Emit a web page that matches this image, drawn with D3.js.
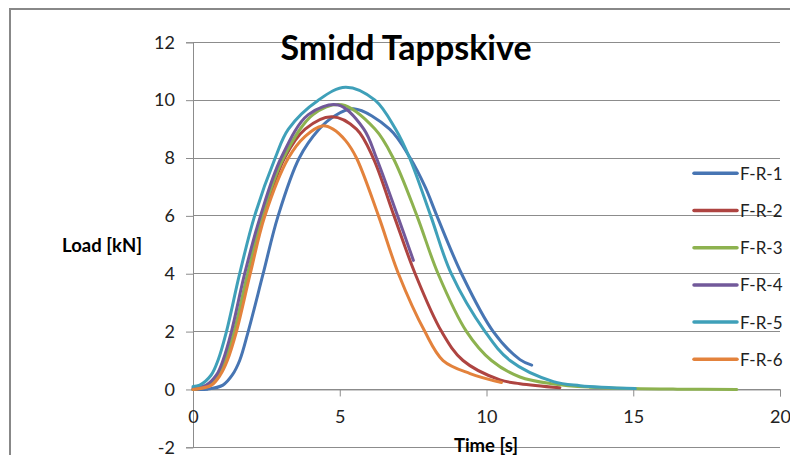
<!DOCTYPE html>
<html><head><meta charset="utf-8">
<script src="https://cdn.jsdelivr.net/npm/d3@7"></script>
<style>body{margin:0;background:#fff}svg{display:block}text{font-family:Lato,"Open Sans",sans-serif}</style>
</head><body><div id="chart"></div>
<script>
const seriesNames = ["F-R-1","F-R-2","F-R-3","F-R-4","F-R-5","F-R-6"];
const seriesColors = ["#4775B3","#AE4441","#8DB24F","#72599A","#3FA0B9","#E3823C"];
const fr1 = [[0,0],[0.5,0.01],[1.02,0.15],[1.34,0.5],[1.59,1],[1.88,2],[2.39,4],[2.9,6],[3.62,8],[4.3,9.0],[4.77,9.42],[5.47,9.7],[6.7,9.0],[7.4,8],[7.91,7],[8.31,6],[9.15,4],[10.23,2],[11.14,1.03],[11.54,0.84]];
const fr2 = [[0,0],[0.55,0.15],[0.87,0.5],[1.12,1],[1.43,2],[1.9,4],[2.4,6],[3.12,8],[3.82,9],[4.73,9.43],[5.57,9],[6.14,8],[6.85,6],[7.57,4],[8.47,2],[9.2,1],[10.46,0.33],[11.14,0.2],[12.5,0.06]];
const fr3 = [[0,0],[0.55,0.15],[0.87,0.5],[1.1,1],[1.4,2],[1.86,4],[2.36,6],[3.08,8],[4.09,9.5],[5.07,9.84],[6.2,9],[6.82,8],[7.63,6],[8.35,4],[9.32,2],[10.17,1],[11.14,0.43],[12.28,0.19],[13.5,0.08],[15,0.03],[16.5,0.01],[18.53,0]];
const fr4 = [[0,0.05],[0.45,0.15],[0.8,0.5],[1.02,1],[1.31,2],[1.76,4],[2.3,6],[3.0,8],[3.93,9.5],[4.95,9.83],[5.82,9],[6.25,8],[6.97,6],[7.51,4.46]];
const fr5 = [[0,0.1],[0.23,0.15],[0.62,0.5],[0.85,1],[1.14,2],[1.59,4],[2.1,6],[2.8,8],[3.25,9],[4.27,10],[5.2,10.45],[6.2,10],[6.9,9],[7.38,8],[8.1,6],[8.8,4],[9.95,2],[10.8,1],[12.28,0.27],[13.19,0.13],[15.07,0.03]];
const fr6 = [[0,0],[0.63,0.15],[0.93,0.5],[1.17,1],[1.48,2],[1.95,4],[2.45,6],[3.25,8],[3.82,8.75],[4.4,9.11],[4.77,9.0],[5.2,8.6],[5.57,8],[6.32,6],[7.0,4],[7.9,2],[8.52,1],[9.44,0.55],[10.51,0.24]];
const seriesData = [fr1,fr2,fr3,fr4,fr5,fr6];
const xTicks = [0,5,10,15,20];
const yTicks = [-2,0,2,4,6,8,10,12];
const titleText = "Smidd Tappskive";
const xTitle = "Time [s]";
const yTitle = "Load [kN]";

const W = 790, H = 455;
const svg = d3.select("#chart").append("svg").attr("width", W).attr("height", H);
svg.append("rect").attr("x",10).attr("y",9).attr("width",800).attr("height",500)
  .attr("fill","#fff").attr("stroke","#888").attr("stroke-width",2);

const x = d3.scaleLinear().domain([0,20]).range([193,780]);
const y = d3.scaleLinear().domain([-2,12]).range([447.3,42.3]);
const fmt = d => String(d);

// gridlines
svg.append("g").selectAll("line").data(yTicks).join("line")
  .attr("x1",x(0)).attr("x2",x(20)).attr("y1",d=>y(d)).attr("y2",d=>y(d))
  .attr("stroke","#8c8c8c").attr("stroke-width",1).attr("shape-rendering","crispEdges");

// y axis
const yAxis = svg.append("g").attr("transform",`translate(${x(0)},0)`)
  .call(d3.axisLeft(y).tickValues(yTicks).tickSize(7).tickPadding(11).tickFormat(fmt));
yAxis.select(".domain").attr("stroke","#8c8c8c");
yAxis.selectAll(".tick line").attr("stroke","#8c8c8c");
yAxis.selectAll("text").attr("font-size",18).attr("fill","#222").attr("font-family","Lato");

// x axis at y=0
const xAxis = svg.append("g").attr("transform",`translate(0,${y(0)})`)
  .call(d3.axisBottom(x).tickValues(xTicks).tickSize(7).tickPadding(14).tickFormat(fmt));
xAxis.select(".domain").attr("stroke","#8c8c8c");
xAxis.selectAll(".tick line").attr("stroke","#8c8c8c");
xAxis.selectAll("text").attr("font-size",18).attr("fill","#222").attr("font-family","Lato");

// lines
const line = d3.line().x(d=>x(d[0])).y(d=>y(d[1])).curve(d3.curveCatmullRom.alpha(0.5));
svg.append("g").selectAll("path").data(seriesData).join("path")
  .attr("d",line).attr("fill","none")
  .attr("stroke",(d,i)=>seriesColors[i]).attr("stroke-width",3)
  .attr("stroke-linecap","round").attr("stroke-linejoin","round");

// title
svg.append("text").attr("x",406).attr("y",60).attr("text-anchor","middle")
  .attr("font-size",34).attr("font-weight","bold").attr("fill","#000").text(titleText);
svg.append("text").attr("x",102).attr("y",252).attr("text-anchor","middle")
  .attr("font-size",18.5).attr("font-weight","bold").attr("fill","#000").text(yTitle);
svg.append("text").attr("x",486).attr("y",452).attr("text-anchor","middle")
  .attr("font-size",18.5).attr("font-weight","bold").attr("fill","#000").text(xTitle);

// legend
const lg = svg.append("g").selectAll("g").data(seriesNames).join("g")
  .attr("transform",(d,i)=>`translate(694,${173.3+i*37.2})`);
lg.append("line").attr("x1",0).attr("x2",43).attr("stroke",(d,i)=>seriesColors[i])
  .attr("stroke-width",3.5).attr("stroke-linecap","round");
lg.append("text").attr("x",46).attr("y",6.5).attr("font-size",17).attr("fill","#222").text(d=>d);
</script></body></html>
